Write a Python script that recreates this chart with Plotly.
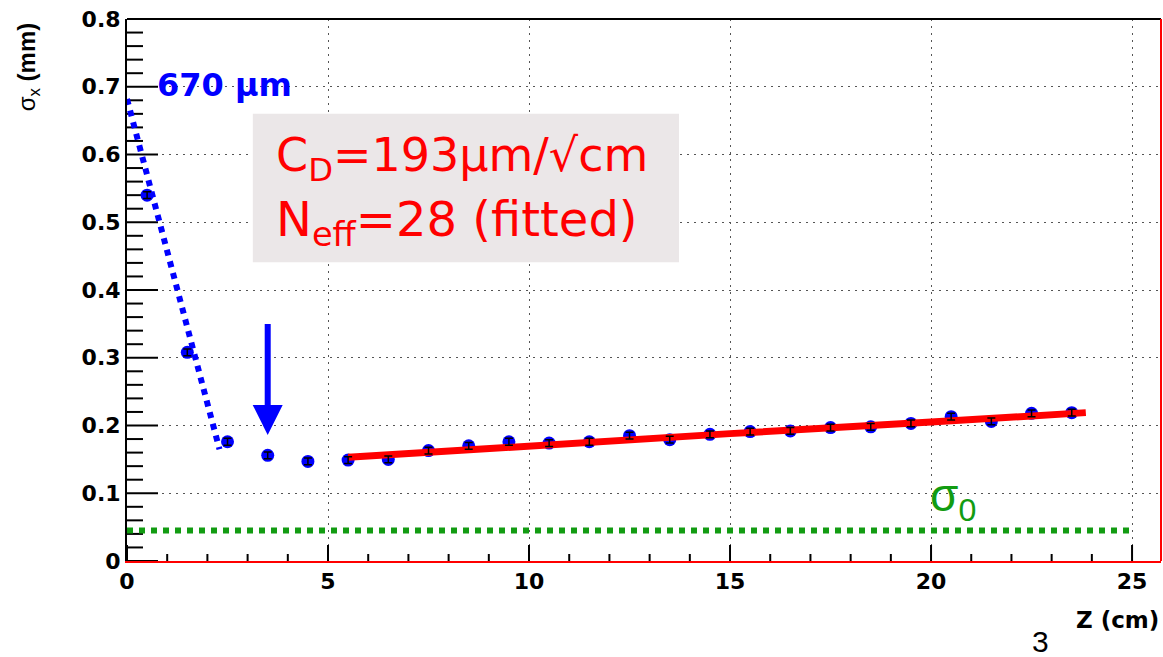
import plotly.graph_objects as go

# ---- data ----
z_cm = [0.5, 1.5, 2.5, 3.5, 4.5, 5.5, 6.5, 7.5, 8.5, 9.5, 10.5, 11.5,
        12.5, 13.5, 14.5, 15.5, 16.5, 17.5, 18.5, 19.5, 20.5, 21.5, 22.5, 23.5]
sigma_mm = [0.540, 0.308, 0.176, 0.156, 0.147, 0.149, 0.150, 0.163, 0.170, 0.176,
            0.174, 0.176, 0.185, 0.179, 0.187, 0.191, 0.192, 0.197, 0.198, 0.203,
            0.213, 0.206, 0.218, 0.219]
sigma_err = [0.005] * len(z_cm)

fit_z = [5.5, 10.0, 15.0, 20.0, 23.85]
fit_sigma = [0.153, 0.170, 0.188, 0.205, 0.219]

extrap_z = [0.0, 2.3]
extrap_sigma = [0.682, 0.165]

sigma0_z = [0.0, 25.0]
sigma0_val = [0.045, 0.045]

x_ticks = [0, 5, 10, 15, 20, 25]
y_ticks = [0, 0.1, 0.2, 0.3, 0.4, 0.5, 0.6, 0.7, 0.8]
y_tick_labels = ["0", "0.1", "0.2", "0.3", "0.4", "0.5", "0.6", "0.7", "0.8"]
x_minor = [v for v in range(0, 26) if v % 5 != 0]
y_minor = [round(i * 0.02, 2) for i in range(0, 41) if i % 5 != 0]

X_RANGE = [0, 25.72]
Y_RANGE = [0, 0.8]

W, H = 1163, 657
M = dict(l=127, r=2, t=19, b=96)
PLOT_W = W - M["l"] - M["r"]
PLOT_H = H - M["t"] - M["b"]
X_PER_PX = (X_RANGE[1] - X_RANGE[0]) / PLOT_W
Y_PER_PX = (Y_RANGE[1] - Y_RANGE[0]) / PLOT_H

BLUE = "#0000ff"
RED = "#ff0000"
GREEN = "#129c12"
TICKFONT = dict(size=22, family="DejaVu Sans, Liberation Sans, sans-serif", weight="bold", color="black")

fig = go.Figure()

# inside tick marks, built from the tick value lists
tx, ty = [], []
for v in x_ticks:
    tx += [v, v, None]; ty += [0, 16 * Y_PER_PX, None]
for v in x_minor:
    tx += [v, v, None]; ty += [0, 7 * Y_PER_PX, None]
for v in y_ticks:
    tx += [0, 31 * X_PER_PX, None]; ty += [v, v, None]
for v in y_minor:
    tx += [0, 16 * X_PER_PX, None]; ty += [v, v, None]
fig.add_trace(go.Scatter(x=tx, y=ty, mode="lines", line=dict(color="black", width=2),
                         hoverinfo="skip", connectgaps=False))

fig.add_trace(go.Scatter(
    x=sigma0_z, y=sigma0_val, mode="lines",
    line=dict(color=GREEN, width=6, dash="6px,6px"), hoverinfo="skip"))

fig.add_trace(go.Scatter(
    x=extrap_z, y=extrap_sigma, mode="lines",
    line=dict(color=BLUE, width=6, dash="6px,6px"), hoverinfo="skip"))

fig.add_trace(go.Scatter(
    x=z_cm, y=sigma_mm, mode="markers",
    marker=dict(color=BLUE, size=13, symbol="circle")))

fig.add_trace(go.Scatter(
    x=fit_z, y=fit_sigma, mode="lines",
    line=dict(color=RED, width=7), hoverinfo="skip"))

# error bars drawn on top of markers
fig.add_trace(go.Scatter(
    x=z_cm, y=sigma_mm, mode="markers",
    marker=dict(color="rgba(0,0,0,0)", size=1),
    error_y=dict(type="data", array=sigma_err, color="black", thickness=1.5, width=4)))

fig.update_layout(
    width=W, height=H, margin=M,
    paper_bgcolor="white", plot_bgcolor="white",
    showlegend=False,
    font=dict(family="Liberation Sans, Arial, sans-serif", color="black"),
    xaxis=dict(
        range=X_RANGE, tickmode="array", tickvals=x_ticks,
        ticktext=[str(v) for v in x_ticks], ticks="",
        showline=True, linecolor=RED, linewidth=2,
        showgrid=True, gridcolor="#555555", gridwidth=1, griddash="2px,5px",
        zeroline=False, tickfont=TICKFONT,
    ),
    yaxis=dict(
        range=Y_RANGE, tickmode="array", tickvals=y_ticks, ticktext=y_tick_labels,
        ticks="", showline=True, linecolor="black", linewidth=2,
        showgrid=True, gridcolor="#555555", gridwidth=1, griddash="2px,5px",
        zeroline=False, tickfont=TICKFONT,
    ),
)

# frame: top black, right red
fig.add_shape(type="line", xref="paper", yref="paper", x0=0, x1=1, y0=1, y1=1,
              line=dict(color="black", width=2))
fig.add_shape(type="line", xref="paper", yref="paper", x0=1, x1=1, y0=0, y1=1,
              line=dict(color=RED, width=2))

# gray text box
fig.add_shape(type="rect", xref="x", yref="y", x0=3.13, x1=13.73, y0=0.441, y1=0.66,
              fillcolor="#ebe7e8", line=dict(width=0), layer="above")

fig.add_annotation(x=3.65, y=0.594, xref="x", yref="y", xanchor="left", yanchor="middle",
                   text="C<sub>D</sub>=193µm/√cm", showarrow=False,
                   font=dict(family="DejaVu Sans", size=46, color=RED))
fig.add_annotation(x=3.65, y=0.499, xref="x", yref="y", xanchor="left", yanchor="middle",
                   text="N<sub>eff</sub>=28 (fitted)", showarrow=False,
                   font=dict(family="DejaVu Sans", size=48, color=RED))

fig.add_annotation(x=0.7, y=0.702, xref="x", yref="y", xanchor="left", yanchor="middle",
                   text="<b>670 µm</b>", showarrow=False,
                   font=dict(family="DejaVu Sans", size=32, color=BLUE))

fig.add_annotation(x=19.93, y=0.092, xref="x", yref="y", xanchor="left", yanchor="middle",
                   text="σ<sub>0</sub>", showarrow=False,
                   font=dict(family="Liberation Sans, Arial", size=46, color=GREEN))

# arrow
fig.add_annotation(x=3.5, y=0.186, ax=3.5, ay=0.352, xref="x", yref="y", axref="x", ayref="y",
                   text="", showarrow=True, arrowhead=2, arrowsize=1, arrowwidth=6,
                   arrowcolor=BLUE, standoff=0)

# axis titles
fig.add_annotation(x=-0.0957, y=0.911, xref="paper", yref="paper", xanchor="center", yanchor="middle",
                   text="σ<sub>x</sub> <b>(mm)</b>", showarrow=False, textangle=-90,
                   font=dict(size=24, color="black"))
fig.add_annotation(x=1.0, y=-0.108, xref="paper", yref="paper", xanchor="right", yanchor="middle",
                   text="<b>Z (cm)</b>", showarrow=False,
                   font=dict(size=23, family="DejaVu Sans", color="black"))
fig.add_annotation(x=0.883, y=-0.148, xref="paper", yref="paper", xanchor="center", yanchor="middle",
                   text="3", showarrow=False, font=dict(size=30, color="black"))

fig.write_html("out.html")
